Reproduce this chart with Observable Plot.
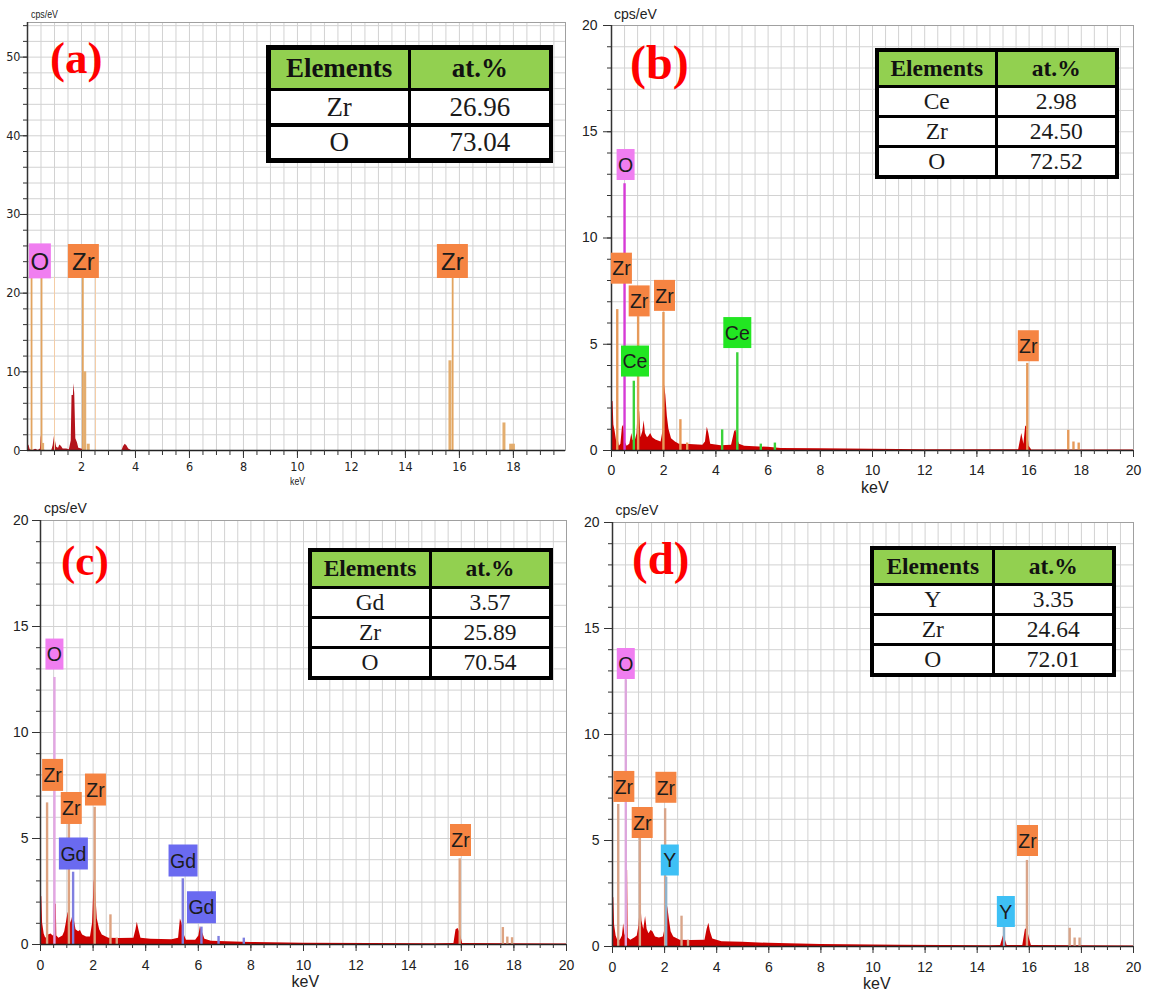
<!DOCTYPE html>
<html><head><meta charset="utf-8">
<script src="https://cdn.jsdelivr.net/npm/d3@7"></script>
<script src="https://cdn.jsdelivr.net/npm/@observablehq/plot@0.6"></script>
<style>
body{margin:0;background:#fff}
#root{position:relative;width:1150px;height:993px;overflow:hidden;background:#fff}
.panel{position:absolute}
.tag{position:absolute;color:#f00;font-family:"Liberation Serif","Times New Roman",serif;font-weight:bold;line-height:1;white-space:nowrap}
.unit{position:absolute;font-family:"Liberation Sans",Arial,sans-serif;color:#222;white-space:nowrap;line-height:1}
.tbl{position:absolute;display:grid;grid-template-columns:1fr 1fr;background:#000;box-sizing:border-box}
.tbl div{background:#fff;display:flex;align-items:center;justify-content:center;font-family:"Liberation Serif","Times New Roman",serif;color:#1a1a1a}
.tbl div.h{background:#92d050;font-weight:bold;color:#111}
</style></head><body><div id="root"></div>
<script>
// ---------- DATA ----------
// Tables (at.%)
const elementsA = ["Zr", "O"];
const atA = ["26.96", "73.04"];
const elementsB = ["Ce", "Zr", "O"];
const atB = ["2.98", "24.50", "72.52"];
const elementsC = ["Gd", "Zr", "O"];
const atC = ["3.57", "25.89", "70.54"];
const elementsD = ["Y", "Zr", "O"];
const atD = ["3.35", "24.64", "72.01"];

// Tick labels
const xLabelsA = [2, 4, 6, 8, 10, 12, 14, 16, 18];
const yLabelsA = [0, 10, 20, 30, 40, 50];
const xLabels = [0, 2, 4, 6, 8, 10, 12, 14, 16, 18, 20];
const yLabels = [0, 5, 10, 15, 20];

// Measured spectra [keV, cps/eV]
const specA = [[0,0],[0.02,0.8],[0.06,0.6],[0.1,0.1],[0.2,0],[0.3,0.15],[0.4,0],[0.48,0.2],[0.51,1.9],[0.54,1.0],[0.58,0.2],[0.65,0],[0.9,0],[0.95,0.6],[1.0,1.8],[1.04,1.1],[1.08,0.4],[1.15,0.3],[1.2,0.7],[1.26,0.5],[1.32,0.2],[1.45,0.2],[1.55,0.1],[1.62,1.2],[1.65,7.0],[1.7,7.0],[1.72,8.5],[1.75,7.2],[1.79,1.5],[1.85,1.0],[1.9,0.3],[2.0,0.2],[2.2,0],[3.5,0],[3.56,0.5],[3.62,0.8],[3.68,0.6],[3.75,0.2],[3.85,0],[19.93,0]];
const specB = [[0,2.35],[0.06,2.3],[0.09,1.2],[0.14,0.9],[0.2,0.4],[0.26,0.5],[0.3,0.2],[0.36,0.3],[0.42,1.1],[0.47,1.2],[0.52,0.4],[0.6,0.2],[0.7,0.3],[0.78,0.8],[0.82,0.5],[0.9,0.4],[0.98,0.8],[1.03,2.2],[1.08,1.8],[1.13,0.6],[1.2,0.9],[1.25,1.4],[1.3,0.8],[1.38,0.6],[1.45,0.7],[1.5,0.8],[1.58,0.6],[1.7,0.5],[1.8,0.45],[1.9,0.4],[1.97,0.9],[2.02,3.2],[2.08,2.6],[2.14,1.6],[2.2,1.0],[2.3,0.55],[2.45,0.4],[2.6,0.3],[3.0,0.28],[3.5,0.25],[3.6,0.4],[3.67,1.1],[3.73,0.8],[3.8,0.3],[4.2,0.22],[4.6,0.25],[4.72,0.9],[4.77,0.95],[4.82,0.6],[4.9,0.3],[5.1,0.2],[6.0,0.15],[6.5,0.1],[8,0.08],[10,0.06],[12,0.04],[15,0.03],[15.6,0.03],[15.72,0.8],[15.8,0.3],[15.87,1.15],[15.93,1.1],[16.0,0.2],[16.1,0.02],[20,0.02]];
const specC = [[0,2.3],[0.05,2.25],[0.08,1.0],[0.14,0.5],[0.2,0.3],[0.3,0.45],[0.4,0.5],[0.48,0.4],[0.55,0.5],[0.57,1.9],[0.6,1.9],[0.62,0.4],[0.7,0.3],[0.85,0.4],[0.92,0.6],[0.98,1.0],[1.05,1.5],[1.1,1.45],[1.16,1.0],[1.22,1.3],[1.28,1.2],[1.35,0.7],[1.45,0.6],[1.52,0.66],[1.6,0.45],[1.75,0.35],[1.9,0.35],[1.98,1.0],[2.04,3.05],[2.1,2.4],[2.16,1.2],[2.25,0.7],[2.35,0.45],[2.6,0.3],[3.0,0.28],[3.55,0.3],[3.63,0.7],[3.68,1.05],[3.74,0.7],[3.82,0.3],[4.2,0.25],[5.0,0.22],[5.25,0.3],[5.32,1.2],[5.38,1.0],[5.45,0.5],[5.55,0.2],[5.9,0.2],[6.02,0.4],[6.08,0.85],[6.15,0.6],[6.25,0.25],[6.5,0.15],[8,0.1],[10,0.06],[15,0.04],[15.72,0.05],[15.8,0.7],[15.88,0.75],[15.95,0.55],[16.05,0.05],[20,0.02]];
const specD = [[0,2.33],[0.05,2.3],[0.08,1.0],[0.14,0.5],[0.2,0.3],[0.3,0.3],[0.38,0.5],[0.43,1.07],[0.47,0.6],[0.53,0.4],[0.55,3.6],[0.58,3.6],[0.6,0.4],[0.7,0.3],[0.85,0.4],[0.95,0.5],[1.02,1.0],[1.08,2.28],[1.13,1.2],[1.2,0.8],[1.27,1.42],[1.33,0.8],[1.4,0.6],[1.48,0.75],[1.55,0.7],[1.65,0.45],[1.8,0.4],[1.95,0.45],[2.05,1.0],[2.12,1.9],[2.18,1.3],[2.25,0.7],[2.35,0.45],[2.6,0.3],[3.0,0.28],[3.55,0.3],[3.63,0.8],[3.7,1.1],[3.76,0.7],[3.85,0.35],[4.2,0.22],[5,0.2],[6,0.15],[8,0.1],[11,0.06],[14.5,0.03],[14.9,0.05],[15.02,0.55],[15.15,0.05],[15.75,0.05],[15.85,0.8],[15.92,0.85],[16.0,0.4],[16.08,0.05],[20,0.02]];

// Element marker lines {el, keV, h}
const linesA = [{el:"Zr",keV:0.15,h:22},{el:"Zr",keV:0.52,h:22},{el:"Zr",keV:2.05,h:22},{el:"Zr",keV:15.75,h:22}];
const faintLinesA = [{el:"Zr",keV:1.0,h:22},{el:"Zr",keV:2.52,h:22}];
const barsA = [{el:"Zr",keV:2.12,h:10},{el:"Zr",keV:2.25,h:0.8},{el:"Zr",keV:0.56,h:0.9},{el:"Zr",keV:15.65,h:11.4},{el:"Zr",keV:17.65,h:3.5},{el:"Zr",keV:17.9,h:0.8},{el:"Zr",keV:18.0,h:0.8}];
const linesB = [{el:"Zr",keV:0.22,h:6.63},{el:"O",keV:0.5,h:12.55},{el:"Ce",keV:0.855,h:3.26},{el:"Zr",keV:1.02,h:6.3},{el:"Zr",keV:1.99,h:6.5},{el:"Zr",keV:2.64,h:1.45},{el:"Zr",keV:2.9,h:0.35},{el:"Ce",keV:4.24,h:0.97},{el:"Ce",keV:4.82,h:4.6},{el:"Ce",keV:5.72,h:0.3},{el:"Ce",keV:6.26,h:0.35},{el:"Zr",keV:15.93,h:4.1},{el:"Zr",keV:17.5,h:0.95},{el:"Zr",keV:17.7,h:0.4},{el:"Zr",keV:17.9,h:0.35}];
const linesC = [{el:"Zr",keV:0.25,h:6.68},{el:"O",keV:0.53,h:12.6},{el:"Zr",keV:1.08,h:5.7},{el:"Gd",keV:1.24,h:3.41},{el:"Zr",keV:2.06,h:6.47},{el:"Zr",keV:2.66,h:1.4},{el:"Zr",keV:2.9,h:0.3},{el:"Gd",keV:5.41,h:3.1},{el:"Gd",keV:6.12,h:0.82},{el:"Gd",keV:6.77,h:0.38},{el:"Gd",keV:7.73,h:0.3},{el:"Zr",keV:15.94,h:4.04},{el:"Zr",keV:17.58,h:0.8},{el:"Zr",keV:17.75,h:0.35},{el:"Zr",keV:17.93,h:0.32}];
const linesD = [{el:"Zr",keV:0.22,h:6.7},{el:"O",keV:0.51,h:12.58},{el:"Zr",keV:1.05,h:5.14},{el:"Zr",keV:2.02,h:6.5},{el:"Y",keV:2.06,h:3.27},{el:"Zr",keV:2.65,h:1.43},{el:"Zr",keV:2.9,h:0.3},{el:"Y",keV:15.03,h:0.91},{el:"Zr",keV:15.91,h:4.06},{el:"Zr",keV:17.55,h:0.86},{el:"Zr",keV:17.74,h:0.4},{el:"Zr",keV:17.93,h:0.4}];

// Peak labels {el, keV, y}
const labelsA = [{el:"O",keV:0.46,y:24.1},{el:"Zr",keV:2.07,y:24.1},{el:"Zr",keV:15.74,y:24.1}];
const labelsB = [{el:"O",keV:0.54,y:13.46},{el:"Zr",keV:0.38,y:8.58},{el:"Zr",keV:1.06,y:7.04},{el:"Zr",keV:2.03,y:7.3},{el:"Ce",keV:0.9,y:4.21},{el:"Ce",keV:4.82,y:5.55},{el:"Zr",keV:15.97,y:4.93}];
const labelsC = [{el:"O",keV:0.53,y:13.7},{el:"Zr",keV:0.46,y:8.0},{el:"Zr",keV:1.17,y:6.44},{el:"Zr",keV:2.09,y:7.31},{el:"Gd",keV:1.25,y:4.29},{el:"Gd",keV:5.42,y:3.96},{el:"Gd",keV:6.12,y:1.76},{el:"Zr",keV:15.97,y:4.93}];
const labelsD = [{el:"O",keV:0.51,y:13.35},{el:"Zr",keV:0.435,y:7.55},{el:"Zr",keV:1.14,y:5.85},{el:"Zr",keV:2.05,y:7.51},{el:"Y",keV:2.2,y:4.08},{el:"Y",keV:15.1,y:1.65},{el:"Zr",keV:15.93,y:5.0}];

// ---------- STYLE ----------
const boxColor = {O:"#f07ef0", Zr:"#f58442", Ce:"#22e622", Gd:"#6a6af0", Y:"#3ec0f5"};
const root = document.getElementById("root");
const box = (w, h) => ({draw(ctx) { ctx.rect(-w / 2, -h / 2, w, h); }});
const GRID = "#d2d2d2";

function panel(cfg) {
  const marks = [
    Plot.gridX(cfg.gridX, {stroke: GRID, strokeOpacity: 1}),
    Plot.gridY(cfg.gridY, {stroke: GRID, strokeOpacity: 1}),
    Plot.frame({stroke: "#a0a0a0"}),
    Plot.areaY(cfg.spec, {x: d => d[0], y: d => d[1], fill: cfg.specColor})
  ];
  for (const set of cfg.lineSets) {
    for (const el of Object.keys(set.colors)) {
      const sub = set.data.filter(d => d.el === el);
      if (sub.length) marks.push(Plot.ruleX(sub, {x: "keV", y1: 0, y2: "h", stroke: set.colors[el], strokeWidth: set.width}));
    }
  }
  marks.push(
    Plot.ruleX([0], {stroke: "#333", strokeWidth: 1.5}),
    Plot.ruleY([0], {stroke: "#222", strokeWidth: 1.6}),
    Plot.axisY(cfg.yMajor, {tickSize: cfg.yTick[0], tickPadding: cfg.yPad, label: null, fontSize: cfg.tickFont, fontFamily: cfg.tickFamily, stroke: "#333"}),
    Plot.axisY(cfg.yMinor, {tickSize: cfg.yTick[1], tickFormat: () => "", label: null, stroke: "#333"}),
    Plot.axisX(cfg.xMajor, {tickSize: cfg.xTick[0], tickPadding: cfg.xPad, label: null, fontSize: cfg.tickFont, fontFamily: cfg.tickFamily, stroke: "#333"}),
    Plot.axisX(cfg.xMinor, {tickSize: cfg.xTick[1], tickFormat: () => "", label: null, stroke: "#333"})
  );
  for (const el of Object.keys(cfg.boxes)) {
    const sub = cfg.labels.filter(d => d.el === el);
    if (!sub.length) continue;
    const [w, h] = cfg.boxes[el];
    marks.push(Plot.dot(sub, {x: "keV", y: "y", symbol: box(w, h), fill: boxColor[el], stroke: "none"}));
    marks.push(Plot.text(sub, {x: "keV", y: "y", text: "el", fill: "#1c1c1c", fontSize: cfg.labelFont, dy: 1, fontFamily: "Liberation Sans, Arial, sans-serif"}));
  }
  const svg = Plot.plot({
    width: cfg.width, height: cfg.height,
    marginLeft: cfg.m[0], marginRight: cfg.m[1], marginTop: cfg.m[2], marginBottom: cfg.m[3],
    x: {domain: cfg.xDomain}, y: {domain: cfg.yDomain},
    style: {background: "transparent", fontFamily: "Liberation Sans, Arial, sans-serif", color: "#222", overflow: "visible"},
    marks
  });
  const wrap = document.createElement("div");
  wrap.className = "panel";
  wrap.style.left = cfg.left + "px"; wrap.style.top = cfg.top + "px";
  wrap.appendChild(svg);
  root.appendChild(wrap);
}

function addTable(t, elements, values) {
  const d = document.createElement("div");
  d.className = "tbl";
  Object.assign(d.style, {left: t.left + "px", top: t.top + "px", width: t.w + "px", height: t.h + "px",
    padding: t.pad + "px", gap: t.gap + "px", gridTemplateRows: t.rows});
  const cells = [["Elements", "at.%", true]];
  elements.forEach((e, i) => cells.push([e, values[i], false]));
  for (const [a, b, h] of cells) {
    for (const txt of [a, b]) {
      const c = document.createElement("div");
      if (h) c.className = "h";
      c.style.fontSize = t.font + "px";
      c.textContent = txt;
      d.appendChild(c);
    }
  }
  root.appendChild(d);
}

function addText(cls, txt, left, top, size, extra) {
  const d = document.createElement("div");
  d.className = cls; d.textContent = txt;
  d.style.left = left + "px"; d.style.top = top + "px"; d.style.fontSize = size + "px";
  if (extra) Object.assign(d.style, extra);
  root.appendChild(d);
}

const halfKeV = d3.range(0, 20.001, 0.5);
const grid1 = d3.range(0, 20.001, 1);

// ---------- PANEL (a) ----------
panel({
  left: 0, top: 0, width: 575, height: 495, m: [27, 10, 22, 45],
  xDomain: [0, 19.93], yDomain: [0, 54.4],
  gridX: halfKeV.filter(v => v <= 19.9), gridY: d3.range(0, 54.5, 2),
  spec: specA, specColor: "#b3141c",
  lineSets: [
    {data: faintLinesA, colors: {Zr: "#f4cda6"}, width: 1},
    {data: linesA, colors: {Zr: "#e2a460"}, width: 1.8},
    {data: barsA, colors: {Zr: "#e3ad6e"}, width: 3}
  ],
  yMajor: yLabelsA, yMinor: d3.range(0, 54.5, 2), yTick: [7, 4], yPad: 0,
  xMajor: xLabelsA, xMinor: halfKeV.filter(v => v > 0 && v < 19.9), xTick: [8, 5], xPad: 4,
  tickFont: 12.5, tickFamily: "Liberation Sans Narrow, DejaVu Sans Condensed, Liberation Sans, sans-serif",
  labels: labelsA, boxes: {O: [22, 35], Zr: [31, 34]}, labelFont: 24
});

// ---------- PANEL (b) ----------
panel({
  left: 575, top: 0, width: 575, height: 495, m: [36, 17, 25, 45],
  xDomain: [0, 20], yDomain: [0, 20],
  gridX: halfKeV, gridY: grid1,
  spec: specB, specColor: "#cc0000",
  lineSets: [{data: linesB, colors: {Zr: "#e69a5a", O: "#d63bd6", Ce: "#3ad23a"}, width: 2.4}],
  yMajor: yLabels, yMinor: grid1, yTick: [8, 4], yPad: 6,
  xMajor: xLabels, xMinor: halfKeV, xTick: [7, 4], xPad: 8,
  tickFont: 14, tickFamily: "Liberation Sans, Arial, sans-serif",
  labels: labelsB, boxes: {O: [18, 31], Zr: [21, 31], Ce: [28, 31]}, labelFont: 19.5
});

// ---------- PANEL (c) ----------
panel({
  left: 0, top: 495, width: 575, height: 498, m: [40, 9, 25, 49],
  xDomain: [0, 20], yDomain: [0, 20],
  gridX: halfKeV, gridY: grid1,
  spec: specC, specColor: "#cc0000",
  lineSets: [{data: linesC, colors: {Zr: "#dda381", O: "#e3a6e3", Gd: "#7f7fe0"}, width: 2.4}],
  yMajor: yLabels, yMinor: grid1, yTick: [8, 4], yPad: 4,
  xMajor: xLabels, xMinor: halfKeV, xTick: [7, 4], xPad: 9,
  tickFont: 14, tickFamily: "Liberation Sans, Arial, sans-serif",
  labels: labelsC, boxes: {O: [18, 31], Zr: [21, 32], Gd: [29, 32]}, labelFont: 19.5
});

// ---------- PANEL (d) ----------
panel({
  left: 575, top: 495, width: 575, height: 498, m: [37, 17, 27, 47],
  xDomain: [0, 20], yDomain: [0, 20],
  gridX: halfKeV, gridY: grid1,
  spec: specD, specColor: "#cc0000",
  lineSets: [{data: linesD, colors: {Zr: "#d9a58a", O: "#dda6dd", Y: "#8fb3cc"}, width: 2.4}],
  yMajor: yLabels, yMinor: grid1, yTick: [8, 4], yPad: 5,
  xMajor: xLabels, xMinor: halfKeV, xTick: [7, 4], xPad: 9,
  tickFont: 14, tickFamily: "Liberation Sans, Arial, sans-serif",
  labels: labelsD, boxes: {O: [18, 31], Zr: [21, 31], Y: [18, 31]}, labelFont: 19.5
});

// ---------- TABLES ----------
addTable({left: 266, top: 45, w: 287, h: 118, pad: 4.5, gap: 3.5, rows: "44fr 37fr 37fr", font: 27}, elementsA, atA);
addTable({left: 874.5, top: 47.5, w: 244, h: 131, pad: 4, gap: 3, rows: "38fr 30fr 30fr 31fr", font: 23.5}, elementsB, atB);
addTable({left: 307.5, top: 548, w: 245, h: 132, pad: 4, gap: 3, rows: "39fr 30fr 30fr 32fr", font: 23.5}, elementsC, atC);
addTable({left: 870, top: 546, w: 246, h: 131, pad: 4, gap: 3, rows: "38fr 31fr 31fr 31fr", font: 23.5}, elementsD, atD);

// ---------- PANEL TAGS & UNITS ----------
addText("tag", "(a)", 50, 36, 45);
addText("tag", "(b)", 630, 39, 48);
addText("tag", "(c)", 61, 539, 43);
addText("tag", "(d)", 632, 535, 47);

const narrow = {transform: "scaleX(0.8)", transformOrigin: "0 0"};
addText("unit", "cps/eV", 31, 8.5, 11, narrow);
addText("unit", "keV", 290, 475.5, 11, narrow);
addText("unit", "cps/eV", 614, 6.7, 14);
addText("unit", "keV", 861, 479.5, 16);
addText("unit", "cps/eV", 44, 501, 14);
addText("unit", "keV", 291.5, 974, 16);
addText("unit", "cps/eV", 615.5, 503, 14);
addText("unit", "keV", 863, 976, 16);
</script></body></html>
